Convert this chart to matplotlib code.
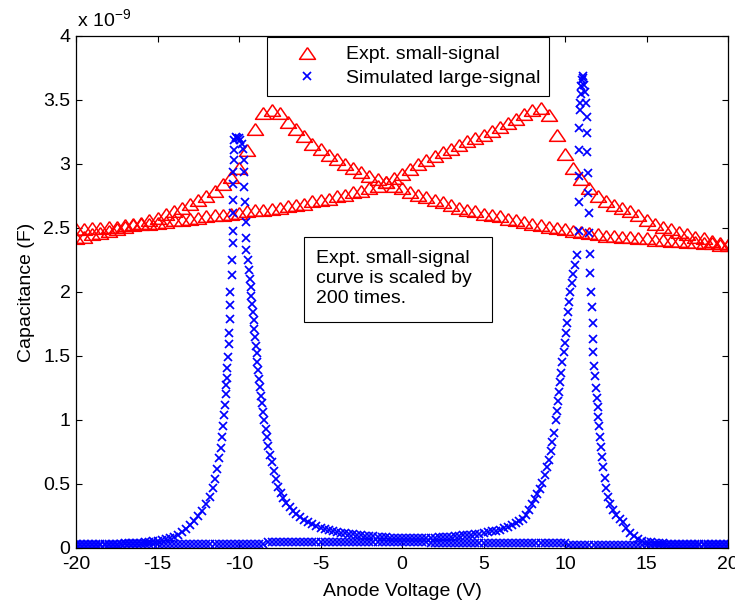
import matplotlib
matplotlib.use('Agg')
import matplotlib.pyplot as plt
from matplotlib.patches import Rectangle

plt.rcParams['font.family'] = ['Liberation Sans', 'DejaVu Sans']
plt.rcParams['axes.unicode_minus'] = False

# experimental small-signal C-V (scaled by 200), capacitance in units of 1e-9 F
red_v = [-20.0, -19.5, -19.0, -18.5, -18.0, -17.5, -17.0, -16.5, -16.0, -15.5,
         -15.0, -14.5, -14.0, -13.5, -13.0, -12.5, -12.0, -11.5, -11.0, -10.5,
         -10.0, -9.5, -9.0, -8.5, -8.0, -7.5, -7.0, -6.5, -6.0, -5.5,
         -5.0, -4.5, -4.0, -3.5, -3.0, -2.5, -2.0, -1.5, -1.0, -0.5,
         0.0, 0.5, 1.0, 1.5, 2.0, 2.5, 3.0, 3.5, 4.0, 4.5,
         5.0, 5.5, 6.0, 6.5, 7.0, 7.5, 8.0, 8.5, 9.0, 9.5,
         10.0, 10.5, 11.0, 11.5, 12.0, 12.5, 13.0, 13.5, 14.0, 14.5,
         15.0, 15.5, 16.0, 16.5, 17.0, 17.5, 18.0, 18.5, 19.0, 19.5, 20.0]

red_down = [2.42, 2.43, 2.45, 2.46, 2.48, 2.49, 2.51, 2.53, 2.54, 2.56,
            2.58, 2.61, 2.63, 2.66, 2.69, 2.72, 2.75, 2.79, 2.84, 2.90,
            2.97, 3.11, 3.27, 3.40, 3.42, 3.40, 3.33, 3.27, 3.22, 3.16,
            3.12, 3.07, 3.04, 3.00, 2.97, 2.94, 2.91, 2.88, 2.86, 2.83,
            2.81, 2.78, 2.76, 2.74, 2.72, 2.70, 2.68, 2.66, 2.64, 2.63,
            2.61, 2.60, 2.59, 2.57, 2.56, 2.55, 2.53, 2.52, 2.51, 2.50,
            2.49, 2.48, 2.47, 2.46, 2.45, 2.44, 2.44, 2.43, 2.43, 2.42,
            2.42, 2.41, 2.41, 2.40, 2.40, 2.39, 2.39, 2.38, 2.38, 2.37, 2.37]

red_up = [2.49, 2.49, 2.50, 2.50, 2.51, 2.51, 2.52, 2.52, 2.53, 2.53,
          2.54, 2.55, 2.56, 2.56, 2.57, 2.58, 2.59, 2.60, 2.60, 2.61,
          2.62, 2.63, 2.64, 2.64, 2.65, 2.66, 2.67, 2.68, 2.69, 2.71,
          2.72, 2.73, 2.75, 2.76, 2.78, 2.79, 2.81, 2.83, 2.86, 2.89,
          2.92, 2.96, 3.00, 3.03, 3.06, 3.09, 3.12, 3.15, 3.18, 3.20,
          3.23, 3.26, 3.29, 3.32, 3.35, 3.39, 3.42, 3.44, 3.38, 3.23,
          3.08, 2.97, 2.88, 2.81, 2.75, 2.71, 2.68, 2.66, 2.63, 2.60,
          2.56, 2.53, 2.51, 2.49, 2.47, 2.45, 2.43, 2.42, 2.40, 2.38, 2.37]

# simulated large-signal, branch with the two peaks
sim_peak_v = [-20.0, -19.75, -19.5, -19.25, -19.0, -18.75, -18.5, -18.25, -18.0, -17.75,
              -17.5, -17.25, -17.0, -16.75, -16.5, -16.25, -16.0, -15.75, -15.5, -15.25,
              -15.0, -14.75, -14.5, -14.25, -14.0, -13.75, -13.5, -13.25, -13.0, -12.75,
              -12.5, -12.25, -12.0, -11.8, -11.6, -11.45, -11.33, -11.22, -11.13, -11.05,
              -10.98, -10.92, -10.86, -10.81, -10.78, -10.75, -10.72, -10.68, -10.64, -10.6,
              -10.58, -10.56, -10.53, -10.46, -10.4, -10.36, -10.35, -10.35, -10.35, -10.35,
              -10.34, -10.33, -10.32, -10.3, -10.2, -10.1, -10.02, -9.92, -9.8, -9.75,
              -9.72, -9.7, -9.67, -9.64, -9.6, -9.58, -9.55, -9.47, -9.39, -9.34,
              -9.29, -9.25, -9.2, -9.15, -9.1, -9.06, -9.02, -8.97, -8.92, -8.87,
              -8.83, -8.77, -8.71, -8.65, -8.59, -8.52, -8.45, -8.37, -8.28, -8.2,
              -8.1, -8.0, -7.88, -7.75, -7.6, -7.45, -7.28, -7.1, -6.9, -6.7,
              -6.5, -6.25, -6.0, -5.75, -5.5, -5.25, -5.0, -4.75, -4.5, -4.25,
              -4.0, -3.75, -3.5, -3.25, -3.0, -2.75, -2.5, -2.25, -2.0, -1.75,
              -1.5, -1.25, -1.0, -0.75, -0.5, -0.25, 0.0, 0.25, 0.5, 0.75,
              1.0, 1.25, 1.5, 1.75, 2.0, 2.25, 2.5, 2.75, 3.0, 3.25,
              3.5, 3.75, 4.0, 4.25, 4.5, 4.75, 5.0, 5.25, 5.5, 5.75,
              6.0, 6.25, 6.5, 6.75, 7.0, 7.2, 7.4, 7.6, 7.8, 8.0,
              8.15, 8.3, 8.45, 8.6, 8.75, 8.88, 9.0, 9.12, 9.23, 9.33,
              9.42, 9.49, 9.56, 9.63, 9.7, 9.77, 9.84, 9.91, 9.98, 10.05,
              10.12, 10.18, 10.24, 10.31, 10.4, 10.5, 10.62, 10.74, 10.86, 10.86,
              10.86, 10.87, 10.88, 10.9, 10.93, 10.97, 11.01, 11.05, 11.09, 11.13,
              11.17, 11.21, 11.26, 11.32, 11.35, 11.37, 11.39, 11.42, 11.45, 11.49,
              11.53, 11.56, 11.62, 11.65, 11.7, 11.72, 11.74, 11.8, 11.84, 11.92,
              11.96, 12.0, 12.04, 12.08, 12.13, 12.19, 12.26, 12.34, 12.43, 12.53,
              12.64, 12.78, 12.95, 13.15, 13.35, 13.55, 13.75, 14.0, 14.25, 14.5,
              14.75, 15.0, 15.25, 15.5, 15.75, 16.0, 16.25, 16.5, 16.75, 17.0,
              17.25, 17.5, 17.75, 18.0, 18.25, 18.5, 18.75, 19.0, 19.25, 19.5,
              19.75, 20.0]

sim_peak_c = [0.030, 0.030, 0.030, 0.031, 0.031, 0.031, 0.032, 0.032, 0.033, 0.033,
              0.034, 0.035, 0.036, 0.037, 0.038, 0.040, 0.042, 0.044, 0.047, 0.051,
              0.056, 0.062, 0.069, 0.077, 0.087, 0.10, 0.125, 0.15, 0.18, 0.21,
              0.25, 0.29, 0.34, 0.40, 0.47, 0.54, 0.62, 0.70, 0.78, 0.87,
              0.95, 1.04, 1.12, 1.20, 1.27, 1.33, 1.41, 1.49, 1.59, 1.68,
              1.79, 1.90, 2.00, 2.13, 2.25, 2.38, 2.48, 2.62, 2.72, 2.84,
              2.94, 3.03, 3.11, 3.19, 3.21, 3.20, 3.20, 3.19, 3.16, 3.12,
              3.03, 2.94, 2.82, 2.70, 2.55, 2.42, 2.33, 2.25, 2.17, 2.10,
              2.04, 1.97, 1.91, 1.84, 1.78, 1.71, 1.65, 1.58, 1.52, 1.45,
              1.39, 1.32, 1.26, 1.19, 1.13, 1.06, 1.00, 0.93, 0.87, 0.80,
              0.73, 0.67, 0.60, 0.54, 0.48, 0.43, 0.39, 0.35, 0.32, 0.29,
              0.265, 0.24, 0.22, 0.20, 0.185, 0.172, 0.16, 0.15, 0.141, 0.134,
              0.127, 0.121, 0.116, 0.111, 0.107, 0.103, 0.099, 0.096, 0.093, 0.090,
              0.088, 0.086, 0.084, 0.082, 0.080, 0.079, 0.078, 0.077, 0.077, 0.077,
              0.077, 0.078, 0.079, 0.080, 0.081, 0.083, 0.085, 0.087, 0.089, 0.092,
              0.095, 0.098, 0.101, 0.105, 0.109, 0.113, 0.118, 0.123, 0.129, 0.136,
              0.144, 0.153, 0.164, 0.177, 0.193, 0.21, 0.23, 0.26, 0.30, 0.34,
              0.38, 0.42, 0.46, 0.51, 0.57, 0.63, 0.69, 0.76, 0.83, 0.90,
              1.00, 1.07, 1.15, 1.22, 1.30, 1.37, 1.45, 1.53, 1.60, 1.68,
              1.76, 1.84, 1.92, 2.00, 2.07, 2.14, 2.21, 2.29, 2.48, 2.70,
              2.91, 3.11, 3.28, 3.42, 3.48, 3.55, 3.61, 3.66, 3.69, 3.67,
              3.62, 3.56, 3.48, 3.37, 3.24, 3.09, 2.93, 2.77, 2.62, 2.46,
              2.30, 2.15, 2.00, 1.88, 1.76, 1.63, 1.53, 1.42, 1.34, 1.25,
              1.17, 1.10, 1.02, 0.95, 0.87, 0.79, 0.71, 0.63, 0.55, 0.47,
              0.40, 0.34, 0.30, 0.26, 0.23, 0.20, 0.16, 0.12, 0.09, 0.07,
              0.058, 0.050, 0.045, 0.041, 0.038, 0.036, 0.035, 0.034, 0.033, 0.032,
              0.032, 0.031, 0.031, 0.031, 0.030, 0.030, 0.030, 0.030, 0.029, 0.029,
              0.029, 0.029]

# simulated large-signal, flat branch
sim_flat_v = [-20.0, -19.75, -19.5, -19.25, -19.0, -18.75, -18.5, -18.25,
              -18.0, -17.75, -17.5, -17.25, -17.0, -16.75, -16.5, -16.25,
              -16.0, -15.75, -15.5, -15.25, -15.0, -14.75, -14.5, -14.25,
              -14.0, -13.75, -13.5, -13.25, -13.0, -12.75, -12.5, -12.25,
              -12.0, -11.75, -11.5, -11.25, -11.0, -10.75, -10.5, -10.25,
              -10.0, -9.75, -9.5, -9.25, -9.0, -8.75, -8.5, -8.25,
              -8.0, -7.75, -7.5, -7.25, -7.0, -6.75, -6.5, -6.25,
              -6.0, -5.75, -5.5, -5.25, -5.0, -4.75, -4.5, -4.25,
              -4.0, -3.75, -3.5, -3.25, -3.0, -2.75, -2.5, -2.25,
              -2.0, -1.75, -1.5, -1.25, -1.0, -0.75, -0.5, -0.25,
              0.0, 0.25, 0.5, 0.75, 1.0, 1.25, 1.5, 1.75,
              2.0, 2.25, 2.5, 2.75, 3.0, 3.25, 3.5, 3.75,
              4.0, 4.25, 4.5, 4.75, 5.0, 5.25, 5.5, 5.75,
              6.0, 6.25, 6.5, 6.75, 7.0, 7.25, 7.5, 7.75,
              8.0, 8.25, 8.5, 8.75, 9.0, 9.25, 9.5, 9.75,
              10.0, 10.25, 10.5, 10.75, 11.0, 11.25, 11.5, 11.75,
              12.0, 12.25, 12.5, 12.75, 13.0, 13.25, 13.5, 13.75,
              14.0, 14.25, 14.5, 14.75, 15.0, 15.25, 15.5, 15.75,
              16.0, 16.25, 16.5, 16.75, 17.0, 17.25, 17.5, 17.75,
              18.0, 18.25, 18.5, 18.75, 19.0, 19.25, 19.5, 19.75,
              20.0]

sim_flat_c = [0.022, 0.023, 0.022, 0.022, 0.023, 0.022, 0.022, 0.023,
              0.022, 0.022, 0.023, 0.030, 0.030, 0.031, 0.030, 0.030,
              0.031, 0.030, 0.030, 0.031, 0.030, 0.030, 0.031, 0.030,
              0.030, 0.031, 0.030, 0.030, 0.031, 0.030, 0.030, 0.031,
              0.030, 0.030, 0.031, 0.030, 0.030, 0.031, 0.030, 0.030,
              0.031, 0.030, 0.030, 0.031, 0.030, 0.030, 0.031, 0.045,
              0.045, 0.046, 0.045, 0.045, 0.046, 0.045, 0.045, 0.046,
              0.045, 0.045, 0.046, 0.045, 0.045, 0.046, 0.045, 0.045,
              0.046, 0.045, 0.045, 0.046, 0.045, 0.045, 0.046, 0.045,
              0.045, 0.046, 0.045, 0.045, 0.046, 0.045, 0.045, 0.046,
              0.045, 0.046, 0.045, 0.045, 0.046, 0.045, 0.045, 0.038,
              0.038, 0.039, 0.038, 0.038, 0.039, 0.038, 0.038, 0.039,
              0.038, 0.038, 0.039, 0.038, 0.038, 0.039, 0.038, 0.038,
              0.039, 0.038, 0.038, 0.039, 0.038, 0.038, 0.039, 0.038,
              0.038, 0.039, 0.038, 0.038, 0.039, 0.038, 0.038, 0.039,
              0.038, 0.022, 0.023, 0.022, 0.022, 0.023, 0.022, 0.022,
              0.023, 0.022, 0.022, 0.023, 0.022, 0.022, 0.023, 0.022,
              0.022, 0.023, 0.022, 0.022, 0.023, 0.022, 0.022, 0.023,
              0.022, 0.022, 0.023, 0.022, 0.022, 0.023, 0.022, 0.022,
              0.023, 0.022, 0.022, 0.023, 0.022, 0.022, 0.023, 0.022,
              0.022]

x_ticks = [-20, -15, -10, -5, 0, 5, 10, 15, 20]
y_ticks = [0, 0.5, 1, 1.5, 2, 2.5, 3, 3.5, 4]

fs = 14.0
fig = plt.figure(figsize=(7.35, 6.05), dpi=100)
ax = fig.add_axes([76 / 735, 57 / 605, 652 / 735, 512 / 605])

# wide matlab-like triangle
tri = [(0, 0.73), (-1, -0.73), (1, -0.73), (0, 0.73)]
ax.plot(red_v, red_down, linestyle='none', marker=tri, ms=11.5, mfc='none',
        mec='red', mew=1.1, label='Expt. small-signal')
ax.plot(red_v, red_up, linestyle='none', marker=tri, ms=11.5, mfc='none',
        mec='red', mew=1.1)
ax.plot(sim_peak_v, sim_peak_c, linestyle='none', marker='x', ms=6.3,
        mec='blue', mew=1.25, label='Simulated large-signal')
ax.plot(sim_flat_v, sim_flat_c, linestyle='none', marker='x', ms=6.3,
        mec='blue', mew=1.25)

ax.set_xlim(-20, 20)
ax.set_ylim(0, 4)
ax.set_xticks(x_ticks)
ax.set_yticks(y_ticks)
ax.set_xticklabels(['%g' % t for t in x_ticks])
ax.set_yticklabels(['%g' % t for t in y_ticks])
ax.tick_params(direction='in', top=True, right=True, length=4.3, width=0.8,
               labelsize=fs)
ax.tick_params(axis='x', pad=6)
ax.tick_params(axis='y', pad=4)
for s in ax.spines.values():
    s.set_linewidth(0.9)

ax.set_xlabel('Anode Voltage (V)', fontsize=fs, labelpad=7)
ax.set_ylabel('Capacitance (F)', fontsize=fs, labelpad=6)

# exponent label like matlab
ax.text(0.0015, 1.0 + 9 / 512, r'x 10$^{\mathregular{-9}}$', transform=ax.transAxes,
        fontsize=fs, ha='left', va='baseline')

leg = ax.legend(loc='upper left', bbox_to_anchor=(0.293, 0.998), borderaxespad=0,
                fontsize=fs, numpoints=1, fancybox=False, framealpha=1,
                edgecolor='black', borderpad=0.45, handlelength=3.2,
                handletextpad=0.4, labelspacing=0.32)
leg.get_frame().set_linewidth(0.8)

ax.add_patch(Rectangle((0.3497, 0.4414), 0.2883, 0.166, transform=ax.transAxes,
                       facecolor='white', edgecolor='black', lw=0.8, zorder=5))
ax.text(0.368, 0.582, 'Expt. small-signal\ncurve is scaled by\n200 times.',
        transform=ax.transAxes, fontsize=fs, ha='left', va='top',
        linespacing=1.24, zorder=6)

fig.savefig('out.png', dpi=100)
